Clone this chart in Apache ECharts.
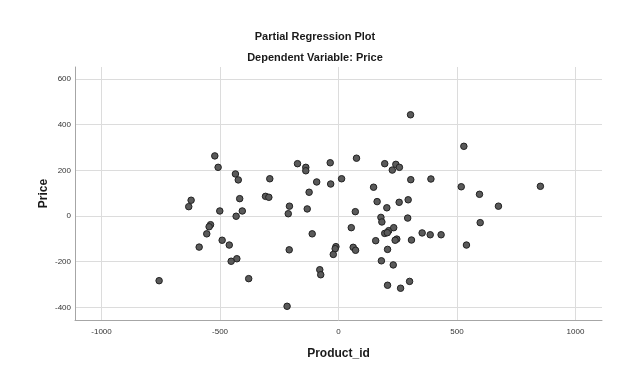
<!DOCTYPE html>
<html>
<head>
<meta charset="utf-8">
<script src="https://cdn.jsdelivr.net/npm/echarts@6/dist/echarts.min.js"></script>
<style>
html,body{margin:0;padding:0;background:#fff;}
#chart{width:630px;height:370px;}
</style>
</head>
<body>
<div id="chart"></div>
<script>
var chartTitle = 'Partial Regression Plot';
var chartSubtitle = 'Dependent Variable: Price';
var xName = 'Product_id';
var yName = 'Price';
var xTicks = [-1000, -500, 0, 500, 1000];
var yTicks = [-400, -200, 0, 200, 400, 600];

var productId = [
  -757, -522, -508, -435, -423, -290, -622, -632, -417, -308,
  -294, -501, -406, -432, -540, -546, -556, -491, -461, -588,
  -429, -453, -379, -173, -138, -138, -35, 76, 195, -92,
  -33, 13, 148, -124, -207, -212, -132, 163, 204, 71,
  179, 183, 54, -111, 212, 195, 157, -208, -11, -14,
  -22, 62, 72, 207, 181, -79, -75, 207, -217, 304,
  529, 242, 257, 227, 305, 390, 518, 595, 675, 256,
  294, 292, 598, 233, 206, 246, 239, 308, 353, 387,
  433, 540, 231, 300, 262, 852
];
var price = [
  -283, 263, 213, 184, 158, 163, 69, 41, 76, 86,
  82, 22, 22, -1, -38, -47, -78, -106, -127, -136,
  -187, -198, -274, 229, 213, 198, 233, 253, 229, 149,
  140, 163, 126, 104, 43, 10, 31, 63, 36, 19,
  -6, -26, -51, -78, -64, -76, -108, -148, -134, -143,
  -168, -137, -150, -146, -196, -235, -257, -303, -395, 443,
  305, 226, 213, 201, 159, 162, 128, 95, 43, 60,
  71, -9, -29, -51, -73, -101, -106, -105, -74, -82,
  -82, -127, -214, -286, -316, 130
];

var points = productId.map(function (x, i) { return [x, price[i]]; });

var chart = echarts.init(document.getElementById('chart'), null, {renderer: 'canvas'});
chart.setOption({
  backgroundColor: '#ffffff',
  animation: false,
  title: [
    {text: chartTitle, left: 'center', top: 26,
     textStyle: {fontFamily: 'Liberation Sans', fontWeight: 'bold', fontSize: 11, color: '#1a1a1a'}},
    {text: chartSubtitle, left: 'center', top: 47,
     textStyle: {fontFamily: 'Liberation Sans', fontWeight: 'bold', fontSize: 11, color: '#1a1a1a'}}
  ],
  grid: {left: 75, right: 28, top: 67, bottom: 50, containLabel: false},
  xAxis: {
    type: 'value', min: -1112, max: 1112,
    name: xName, nameLocation: 'middle', nameGap: 28, nameMoveOverlap: false,
    nameTextStyle: {fontFamily: 'Liberation Sans', fontWeight: 'bold', fontSize: 12, color: '#1a1a1a'},
    axisLine: {show: true, onZero: false, lineStyle: {color: '#a6a6a6', width: 1}},
    axisTick: {show: false, customValues: xTicks},
    axisLabel: {customValues: xTicks, fontFamily: 'Liberation Sans', fontSize: 8, color: '#333', margin: 8,
      formatter: function (v) { return String(v); }},
    splitLine: {show: true, lineStyle: {color: '#dcdcdc', width: 1}}
  },
  yAxis: {
    type: 'value', min: -455, max: 652,
    name: yName, nameLocation: 'middle', nameGap: 25, nameRotate: 90, nameMoveOverlap: false,
    nameTextStyle: {fontFamily: 'Liberation Sans', fontWeight: 'bold', fontSize: 12, color: '#1a1a1a'},
    axisLine: {show: true, onZero: false, lineStyle: {color: '#a6a6a6', width: 1}},
    axisTick: {show: false, customValues: yTicks},
    axisLabel: {customValues: yTicks, fontFamily: 'Liberation Sans', fontSize: 8, color: '#333', margin: 4,
      formatter: function (v) { return String(v); }},
    splitLine: {show: true, lineStyle: {color: '#dcdcdc', width: 1}}
  },
  series: [{
    type: 'scatter',
    data: points,
    symbol: 'circle',
    symbolSize: 6.5,
    itemStyle: {color: '#5a5a5a', borderColor: '#222', borderWidth: 1, opacity: 1}
  }]
});
</script>
</body>
</html>
